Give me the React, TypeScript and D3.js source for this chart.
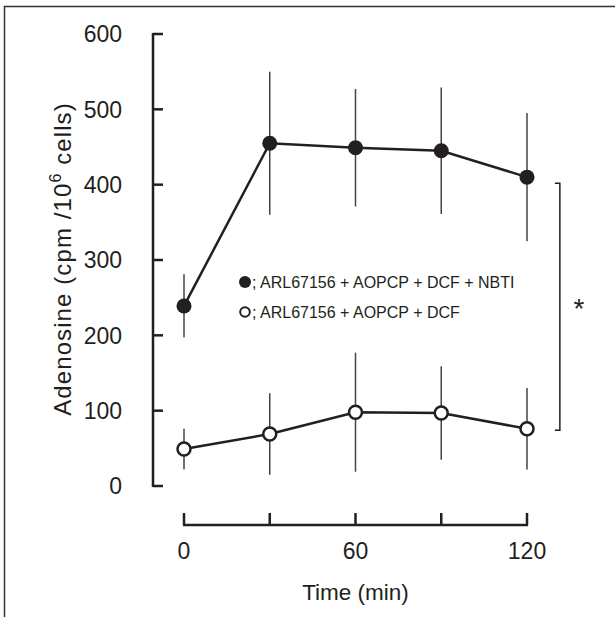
import React from 'react';
import * as d3 from 'd3';

// time points (min)
const times = [0, 30, 60, 90, 120];
// ARL67156 + AOPCP + DCF + NBTI (filled)
const nbtiMean = [239, 455, 449, 445, 410];
const nbtiErr = [42, 95, 78, 84, 85];
// ARL67156 + AOPCP + DCF (open)
const dcfMean = [49, 69, 98, 97, 76];
const dcfErr = [27, 54, 79, 62, 54];

const yTicks = [0, 100, 200, 300, 400, 500, 600];
const xTicks = [0, 30, 60, 90, 120];
const xLabels = [0, 60, 120];

const legendItems = [
  { label: '; ARL67156 + AOPCP + DCF + NBTI', filled: true },
  { label: '; ARL67156 + AOPCP + DCF', filled: false },
];

// significance bracket span (Adenosine units)
const bracketSpan = [402, 74];

const W = 615;
const H = 617;
const ink = '#231f20';
const font = 'Liberation Sans, Arial, Helvetica, sans-serif';

const App = () => {
  const x = d3.scaleLinear().domain([0, 120]).range([184, 527]);
  const y = d3.scaleLinear().domain([0, 600]).range([486, 34]);

  const line = d3.line<number>()
    .x((_, i) => x(times[i]))
    .y(d => y(d));

  const axisY = 525;
  const axisX = 153;
  const bx = x(131.5);

  const series = [
    { mean: dcfMean, err: dcfErr, filled: false },
    { mean: nbtiMean, err: nbtiErr, filled: true },
  ];

  return (
    <svg width={W} height={H} style={{ position: 'absolute', left: 0, top: 0, background: '#fff' }}
      fontFamily={font}>
      {/* frame */}
      <line x1={4} x2={W} y1={6.5} y2={6.5} stroke="#333" strokeWidth={1.5} />
      <line x1={4.5} x2={4.5} y1={6} y2={H} stroke="#333" strokeWidth={1.5} />

      {/* y axis */}
      <line x1={axisX} x2={axisX} y1={y(600) - 1} y2={y(0) + 1} stroke={ink} strokeWidth={2.5} />
      {yTicks.map(t => (
        <g key={t}>
          <line x1={axisX} x2={axisX + 10} y1={y(t)} y2={y(t)} stroke={ink} strokeWidth={2.5} />
          <text x={122} y={y(t)} dy="0.36em" textAnchor="end" fontSize={23} fill={ink}>{t}</text>
        </g>
      ))}
      <text transform={`translate(71,${259}) rotate(-90)`} textAnchor="middle" fontSize={24}
        letterSpacing={1.1} fill={ink}>
        Adenosine (cpm /10<tspan dy={-10} fontSize={16}>6</tspan><tspan dy={10}> cells)</tspan>
      </text>

      {/* x axis */}
      <line x1={x(0) - 1} x2={x(120) + 1} y1={axisY} y2={axisY} stroke={ink} strokeWidth={2.5} />
      {xTicks.map(t => (
        <line key={t} x1={x(t)} x2={x(t)} y1={axisY} y2={axisY - 12} stroke={ink} strokeWidth={2.5} />
      ))}
      {xLabels.map(t => (
        <text key={t} x={x(t)} y={559} textAnchor="middle" fontSize={23} fill={ink}>{t}</text>
      ))}
      <text x={x(60)} y={600} textAnchor="middle" fontSize={22.5} fill={ink}>Time (min)</text>

      {/* error bars */}
      {series.map((s, si) => s.mean.map((m, i) => (
        <line key={`e${si}-${i}`} x1={x(times[i])} x2={x(times[i])}
          y1={y(m + s.err[i])} y2={y(m - s.err[i])} stroke="#444" strokeWidth={1.5} />
      )))}

      {/* lines + markers */}
      {series.map((s, si) => (
        <g key={`s${si}`}>
          <path d={line(s.mean) || ''} fill="none" stroke={ink} strokeWidth={2.5} />
          {s.mean.map((m, i) => (
            s.filled
              ? <circle key={i} cx={x(times[i])} cy={y(m)} r={7.5} fill={ink} />
              : <circle key={i} cx={x(times[i])} cy={y(m)} r={6.5} fill="#fff" stroke={ink} strokeWidth={2.5} />
          ))}
        </g>
      ))}

      {/* legend */}
      {legendItems.map((it, i) => (
        <g key={i} transform={`translate(245,${282 + i * 30})`}>
          {it.filled
            ? <circle r={6} fill={ink} />
            : <circle r={4.8} fill="#fff" stroke={ink} strokeWidth={2} />}
          <text x={7} y={6} fontSize={16} fill={ink}>{it.label}</text>
        </g>
      ))}

      {/* significance bracket */}
      <path d={`M${bx - 5},${y(bracketSpan[0])}H${bx}V${y(bracketSpan[1])}H${bx - 5}`}
        fill="none" stroke={ink} strokeWidth={1.5} />
      <text x={579} y={318} textAnchor="middle" fontSize={28} fill={ink}>*</text>
    </svg>
  );
};

export default App;
